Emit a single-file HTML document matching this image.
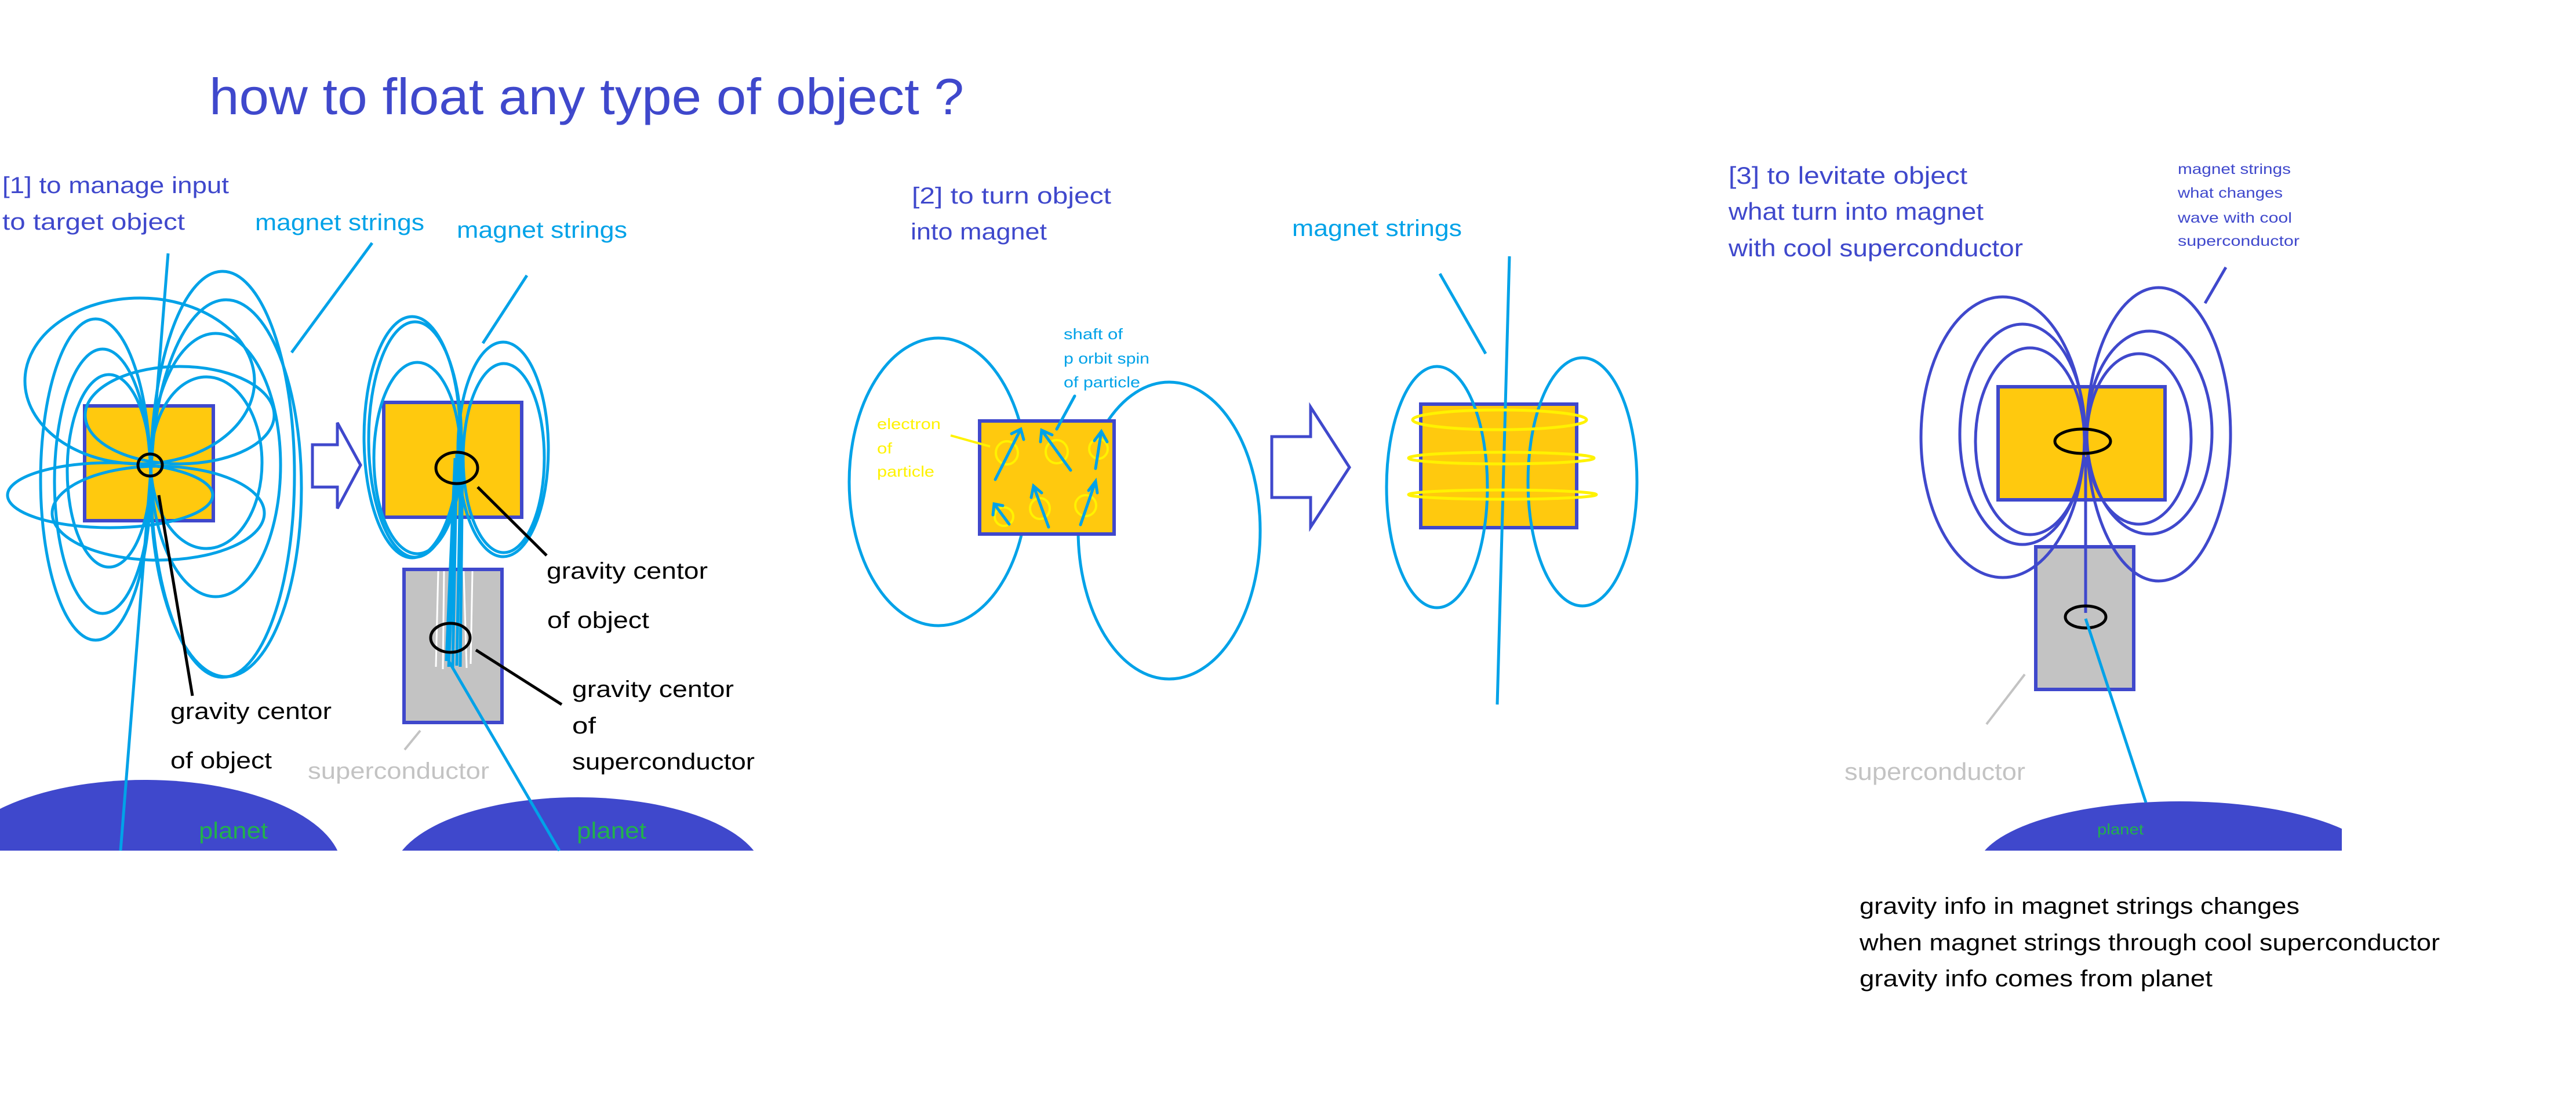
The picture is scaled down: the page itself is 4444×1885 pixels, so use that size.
<!DOCTYPE html>
<html><head><meta charset="utf-8"><style>
html,body{margin:0;padding:0;background:#fff;}
svg{display:block;}
text{font-family:"Liberation Sans",sans-serif;}
</style></head><body>
<svg width="4444" height="1885" viewBox="0 0 4444 1885" xmlns="http://www.w3.org/2000/svg">
<rect width="4444" height="1885" fill="#fff"/>
<!-- title -->
<text x="361" y="197" font-size="88" fill="#3f48cc" textLength="1302" lengthAdjust="spacingAndGlyphs">how to float any type of object ?</text>

<!-- ===== Section 1 ===== -->
<g font-size="40">
<text x="4" y="333" fill="#3f48cc" textLength="391" lengthAdjust="spacingAndGlyphs">[1] to manage input</text>
<text x="4" y="396" fill="#3f48cc" textLength="315" lengthAdjust="spacingAndGlyphs">to target object</text>
<text x="440" y="397" fill="#00a2e8" textLength="292" lengthAdjust="spacingAndGlyphs">magnet strings</text>
<text x="788" y="410" fill="#00a2e8" textLength="294" lengthAdjust="spacingAndGlyphs">magnet strings</text>
</g>
<!-- planets -->
<defs><clipPath id="c1"><rect x="0" y="0" width="4444" height="1467"/></clipPath>
<clipPath id="c3"><rect x="0" y="0" width="4040" height="1467"/></clipPath></defs>
<g clip-path="url(#c1)" fill="#3f48cc">
<ellipse cx="250" cy="1500" rx="340" ry="155"/>
<ellipse cx="997" cy="1510" rx="320" ry="135"/>
</g>
<g clip-path="url(#c3)" fill="#3f48cc"><ellipse cx="3760" cy="1500" rx="350" ry="118"/></g>

<!-- left object -->
<rect x="146" y="700" width="222" height="198" fill="#ffc90e" stroke="#3f48cc" stroke-width="6"/>
<g fill="none" stroke="#00a2e8" stroke-width="5">
<line x1="290" y1="437" x2="208" y2="1467"/>
<line x1="642" y1="419" x2="503" y2="608"/>
<ellipse cx="241" cy="657" rx="198" ry="143"/>
<ellipse cx="310" cy="716" rx="163" ry="84"/>
<ellipse cx="190" cy="854" rx="177" ry="56"/>
<ellipse cx="273" cy="885" rx="183" ry="81"/>
<ellipse cx="165" cy="827" rx="95" ry="277"/>
<ellipse cx="177" cy="830" rx="83" ry="228"/>
<ellipse cx="188" cy="812" rx="72" ry="166"/>
<ellipse cx="384" cy="818" rx="124" ry="350"/>
<ellipse cx="390" cy="842" rx="130" ry="325"/>
<ellipse cx="372" cy="802" rx="112" ry="227"/>
<ellipse cx="356" cy="798" rx="96" ry="148"/>
</g>
<ellipse cx="259" cy="802" rx="21" ry="19" fill="none" stroke="#000" stroke-width="5"/>
<line x1="274" y1="854" x2="332" y2="1200" stroke="#000" stroke-width="5"/>
<g font-size="40" fill="#000">
<text x="294" y="1240" textLength="278" lengthAdjust="spacingAndGlyphs">gravity centor</text>
<text x="294" y="1325" textLength="175" lengthAdjust="spacingAndGlyphs">of object</text>
</g>
<!-- hollow arrow 1 -->
<polygon points="539,767 582,767 582,729 622,802 582,877 582,840 539,840" fill="#fff" stroke="#3f48cc" stroke-width="5"/>

<!-- second object -->
<rect x="662" y="694" width="238" height="198" fill="#ffc90e" stroke="#3f48cc" stroke-width="6"/>
<rect x="697" y="982" width="169" height="264" fill="#c3c3c3" stroke="#3f48cc" stroke-width="6"/>
<g stroke="#fff" stroke-width="3">
<line x1="756" y1="985" x2="752" y2="1150"/>
<line x1="766" y1="985" x2="764" y2="1154"/>
<line x1="800" y1="985" x2="805" y2="1152"/>
<line x1="815" y1="985" x2="812" y2="1145"/>
</g>
<g fill="none" stroke="#00a2e8" stroke-width="5">
<ellipse cx="711" cy="754" rx="83" ry="208"/>
<ellipse cx="716" cy="758" rx="80" ry="203"/>
<ellipse cx="720" cy="790" rx="75" ry="165"/>
<ellipse cx="868" cy="775" rx="78" ry="185"/>
<ellipse cx="869" cy="790" rx="70" ry="163"/>
<line x1="909" y1="475" x2="833" y2="592"/>
<line x1="790" y1="783" x2="774" y2="1150"/>
<line x1="788" y1="783" x2="781" y2="1152"/>
<line x1="795" y1="783" x2="788" y2="1148"/>
<line x1="785" y1="790" x2="770" y2="1140"/>
<line x1="798" y1="790" x2="794" y2="1150"/>
<line x1="774" y1="1140" x2="965" y2="1467"/>
</g>
<ellipse cx="788" cy="807" rx="36" ry="27" fill="none" stroke="#000" stroke-width="5"/>
<ellipse cx="777" cy="1100" rx="34" ry="25" fill="none" stroke="#000" stroke-width="5"/>
<line x1="824" y1="840" x2="943" y2="958" stroke="#000" stroke-width="5"/>
<line x1="821" y1="1121" x2="969" y2="1215" stroke="#000" stroke-width="5"/>
<line x1="725" y1="1260" x2="698" y2="1293" stroke="#c3c3c3" stroke-width="4"/>
<g font-size="40" fill="#000">
<text x="943" y="998" textLength="278" lengthAdjust="spacingAndGlyphs">gravity centor</text>
<text x="944" y="1083" textLength="176" lengthAdjust="spacingAndGlyphs">of object</text>
<text x="987" y="1202" textLength="279" lengthAdjust="spacingAndGlyphs">gravity centor</text>
<text x="987" y="1265" textLength="41" lengthAdjust="spacingAndGlyphs">of</text>
<text x="987" y="1327" textLength="315" lengthAdjust="spacingAndGlyphs">superconductor</text>
</g>
<text x="531" y="1343" font-size="40" fill="#c3c3c3" textLength="313" lengthAdjust="spacingAndGlyphs">superconductor</text>
<text x="343" y="1446" font-size="40" fill="#22b14c" textLength="119" lengthAdjust="spacingAndGlyphs">planet</text>
<text x="995" y="1446" font-size="40" fill="#22b14c" textLength="120" lengthAdjust="spacingAndGlyphs">planet</text>

<!-- ===== Section 2 ===== -->
<g font-size="40">
<text x="1573" y="351" fill="#3f48cc" textLength="344" lengthAdjust="spacingAndGlyphs">[2] to turn object</text>
<text x="1571" y="413" fill="#3f48cc" textLength="235" lengthAdjust="spacingAndGlyphs">into magnet</text>
<text x="2229" y="407" fill="#00a2e8" textLength="293" lengthAdjust="spacingAndGlyphs">magnet strings</text>
</g>
<g fill="none" stroke="#00a2e8" stroke-width="5">
<ellipse cx="1619" cy="831" rx="154" ry="248"/>
<ellipse cx="2017" cy="915" rx="157" ry="256"/>
</g>
<rect x="1690" y="726" width="232" height="195" fill="#ffc90e" stroke="#3f48cc" stroke-width="6"/>
<g fill="none" stroke="#fff200" stroke-width="4">
<ellipse cx="1737" cy="781" rx="19" ry="20"/>
<ellipse cx="1823" cy="779" rx="19" ry="20"/>
<ellipse cx="1895" cy="774" rx="16" ry="17"/>
<ellipse cx="1732" cy="891" rx="16" ry="16"/>
<ellipse cx="1794" cy="877" rx="17" ry="18"/>
<ellipse cx="1873" cy="872" rx="18" ry="18"/>
<line x1="1640" y1="751" x2="1708" y2="770"/>
</g>
<g fill="none" stroke="#00a2e8" stroke-width="5" stroke-linecap="round">
<path d="M1717,827 L1761,740 M1745,748 L1761,740 L1766,758"/>
<path d="M1847,811 L1797,742 M1795,762 L1797,742 L1815,750"/>
<path d="M1890,808 L1900,744 M1888,760 L1900,744 L1910,762"/>
<path d="M1741,904 L1715,869 M1713,888 L1715,869 L1730,872"/>
<path d="M1809,909 L1783,838 M1779,858 L1783,838 L1797,850"/>
<path d="M1864,905 L1890,830 M1878,846 L1890,830 L1893,850"/>
<line x1="1854" y1="683" x2="1823" y2="740"/>
</g>
<g font-size="26" fill="#fff200">
<text x="1513" y="740" textLength="110" lengthAdjust="spacingAndGlyphs">electron</text>
<text x="1513" y="782" textLength="26" lengthAdjust="spacingAndGlyphs">of</text>
<text x="1513" y="822" textLength="99" lengthAdjust="spacingAndGlyphs">particle</text>
</g>
<g font-size="26" fill="#00a2e8">
<text x="1835" y="585" textLength="102" lengthAdjust="spacingAndGlyphs">shaft of</text>
<text x="1835" y="627" textLength="148" lengthAdjust="spacingAndGlyphs">p orbit spin</text>
<text x="1835" y="668" textLength="132" lengthAdjust="spacingAndGlyphs">of particle</text>
</g>
<polygon points="2194,753 2261,753 2261,702 2328,806 2261,909 2261,858 2194,858" fill="#fff" stroke="#3f48cc" stroke-width="5"/>
<rect x="2451" y="697" width="269" height="213" fill="#ffc90e" stroke="#3f48cc" stroke-width="6"/>
<g fill="none" stroke="#00a2e8" stroke-width="5">
<ellipse cx="2479" cy="840" rx="87" ry="208"/>
<ellipse cx="2730" cy="831" rx="94" ry="214"/>
<line x1="2604" y1="442" x2="2583" y2="1215"/>
<line x1="2484" y1="472" x2="2563" y2="610"/>
</g>
<g fill="none" stroke="#fff200" stroke-width="5">
<ellipse cx="2587" cy="724" rx="150" ry="17"/>
<ellipse cx="2590" cy="790" rx="160" ry="10"/>
<ellipse cx="2592" cy="853" rx="162" ry="8"/>
</g>

<!-- ===== Section 3 ===== -->
<g font-size="42" fill="#3f48cc">
<text x="2982" y="317" textLength="412" lengthAdjust="spacingAndGlyphs">[3] to levitate object</text>
<text x="2982" y="379" textLength="440" lengthAdjust="spacingAndGlyphs">what turn into magnet</text>
<text x="2982" y="442" textLength="508" lengthAdjust="spacingAndGlyphs">with cool superconductor</text>
</g>
<g font-size="25" fill="#3f48cc">
<text x="3757" y="300" textLength="195" lengthAdjust="spacingAndGlyphs">magnet strings</text>
<text x="3757" y="341" textLength="181" lengthAdjust="spacingAndGlyphs">what changes</text>
<text x="3757" y="384" textLength="197" lengthAdjust="spacingAndGlyphs">wave with cool</text>
<text x="3757" y="424" textLength="210" lengthAdjust="spacingAndGlyphs">superconductor</text>
</g>
<line x1="3840" y1="461" x2="3804" y2="523" stroke="#3f48cc" stroke-width="5"/>
<rect x="3447" y="667" width="288" height="195" fill="#ffc90e" stroke="#3f48cc" stroke-width="6"/>
<rect x="3512" y="943" width="169" height="246" fill="#c3c3c3" stroke="#3f48cc" stroke-width="6"/>
<g fill="none" stroke="#3f48cc" stroke-width="5">
<ellipse cx="3455" cy="754" rx="141" ry="242"/>
<ellipse cx="3489" cy="749" rx="108" ry="190"/>
<ellipse cx="3502" cy="761" rx="94" ry="161"/>
<ellipse cx="3724" cy="749" rx="124" ry="253"/>
<ellipse cx="3708" cy="746" rx="108" ry="175"/>
<ellipse cx="3690" cy="757" rx="90" ry="147"/>
<line x1="3598" y1="788" x2="3598" y2="1057"/>
</g>
<ellipse cx="3593" cy="761" rx="48" ry="21" fill="none" stroke="#000" stroke-width="5"/>
<ellipse cx="3598" cy="1064" rx="35" ry="19" fill="none" stroke="#000" stroke-width="5"/>
<line x1="3598" y1="1067" x2="3702" y2="1384" stroke="#00a2e8" stroke-width="5"/>
<line x1="3493" y1="1163" x2="3427" y2="1249" stroke="#c3c3c3" stroke-width="4"/>
<text x="3182" y="1345" font-size="42" fill="#c3c3c3" textLength="312" lengthAdjust="spacingAndGlyphs">superconductor</text>
<text x="3618" y="1439" font-size="26" fill="#22b14c" textLength="80" lengthAdjust="spacingAndGlyphs">planet</text>
<g font-size="40" fill="#000">
<text x="3208" y="1576" textLength="759" lengthAdjust="spacingAndGlyphs">gravity info in magnet strings changes</text>
<text x="3208" y="1639" textLength="1001" lengthAdjust="spacingAndGlyphs">when magnet strings through cool superconductor</text>
<text x="3208" y="1701" textLength="609" lengthAdjust="spacingAndGlyphs">gravity info comes from planet</text>
</g>
</svg>
</body></html>
